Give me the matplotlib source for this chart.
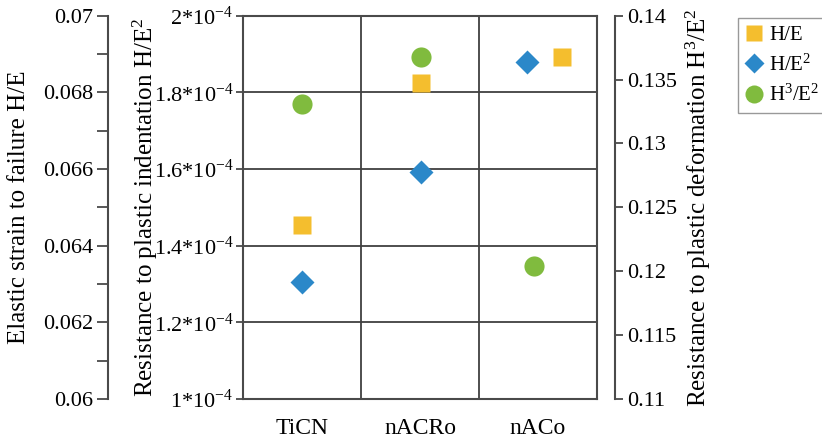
"""
Hardness ratios of the three coatings on three y-axes:
H/E (outer left), H/E^2 (inner left) and H^3/E^2 (right).
"""
import matplotlib
matplotlib.use("Agg")
import matplotlib.pyplot as plt
from matplotlib.lines import Line2D

plt.rcParams["font.family"] = ["Liberation Serif", "DejaVu Serif"]
plt.rcParams["mathtext.fontset"] = "custom"
plt.rcParams["mathtext.rm"] = "Liberation Serif"
plt.rcParams["mathtext.it"] = "Liberation Serif:italic"

# ── data ──────────────────────────────────────────────────────────────────────
coatings = ["TiCN", "nACRo", "nACo"]
h_e      = [0.06454, 0.06824, 0.06891]         # elastic strain to failure
h_e2     = [1.305e-4, 1.592e-4, 1.880e-4]      # resistance to plastic indentation
h3_e2    = [0.1331, 0.1368, 0.1204]            # resistance to plastic deformation

# small horizontal shifts inside each category (as placed in the original)
shift_h_e   = [0.0, 0.01, 0.20]
shift_h_e2  = [0.0, 0.01, -0.09]
shift_h3_e2 = [0.0, 0.01, -0.03]

c_sq, c_di, c_ci = "#F4BE2E", "#2B88C9", "#80BB3E"
edge = "#4a4a4a"
tick_fs, lab_fs = 16, 18

fig = plt.figure(figsize=(8.22, 4.38), dpi=100)
ax = fig.add_axes([0.2956, 0.0890, 0.4307, 0.8752])   # H/E^2, owns the grid box
ax_he = ax.twinx()                                     # H/E, far left
ax_h3 = ax.twinx()                                     # H^3/E^2, right

x = range(len(coatings))

# ── main box ─────────────────────────────────────────────────────────────────
ax.set_xlim(-0.5, 2.5)
ax.set_ylim(1e-4, 2e-4)
yt = [1.0e-4, 1.2e-4, 1.4e-4, 1.6e-4, 1.8e-4, 2.0e-4]
ax.set_yticks(yt)
ax.set_yticklabels(["1*10$^{-4}$", "1.2*10$^{-4}$", "1.4*10$^{-4}$",
                    "1.6*10$^{-4}$", "1.8*10$^{-4}$", "2*10$^{-4}$"])
ax.set_xticks(list(x))
ax.set_xticklabels(coatings, fontsize=17)
ax.set_xticks([0.5, 1.5], minor=True)
ax.tick_params(axis="x", which="both", length=0, pad=14)
ax.tick_params(axis="y", length=5, width=1.3, color=edge, labelsize=tick_fs, pad=2)
ax.grid(True, axis="y", color="#404040", lw=1.3)
ax.grid(True, axis="x", which="minor", color="#404040", lw=1.3)
for s in ax.spines.values():
    s.set_color(edge)
    s.set_linewidth(1.5)
ax.set_ylabel("Resistance to plastic indentation H/E$^2$",
              fontsize=lab_fs, va="center")
ax.yaxis.set_label_coords(-0.277, 0.5)

ax.plot([i + d for i, d in zip(x, shift_h_e2)], h_e2, ls="none", marker="D",
        ms=12.5, color=c_di, mec="none", zorder=5, label="H/E$^2$")

# ── outer left axis: H/E ────────────────────────────────────────────────────
ax_he.set_ylim(0.06, 0.07)
ax_he.set_yticks([0.06, 0.062, 0.064, 0.066, 0.068, 0.07])
ax_he.set_yticklabels(["0.06", "0.062", "0.064", "0.066", "0.068", "0.07"])
ax_he.set_yticks([0.061, 0.063, 0.065, 0.067, 0.069], minor=True)
ax_he.yaxis.set_ticks_position("left")
ax_he.yaxis.set_label_position("left")
for k in ["top", "bottom", "right"]:
    ax_he.spines[k].set_visible(False)
ax_he.spines["left"].set_position(("axes", -0.381))
ax_he.spines["left"].set_color(edge)
ax_he.spines["left"].set_linewidth(1.5)
ax_he.tick_params(axis="y", which="both", length=8, width=1.3, color=edge,
                  labelsize=tick_fs, pad=3)
ax_he.set_ylabel("Elastic strain to failure H/E", fontsize=lab_fs, va="center")
ax_he.yaxis.set_label_coords(-0.633, 0.5)

ax_he.plot([i + d for i, d in zip(x, shift_h_e)], h_e, ls="none", marker="s",
           ms=13.5, color=c_sq, mec="none", zorder=5, label="H/E")

# ── right axis: H^3/E^2 ─────────────────────────────────────────────────────
ax_h3.set_ylim(0.11, 0.14)
ax_h3.set_yticks([0.11, 0.115, 0.12, 0.125, 0.13, 0.135, 0.14])
ax_h3.set_yticklabels(["0.11", "0.115", "0.12", "0.125", "0.13", "0.135", "0.14"])
for k in ["top", "bottom", "left"]:
    ax_h3.spines[k].set_visible(False)
ax_h3.spines["right"].set_position(("axes", 1.0508))
ax_h3.spines["right"].set_color(edge)
ax_h3.spines["right"].set_linewidth(1.5)
ax_h3.tick_params(axis="y", length=6, width=1.3, color=edge,
                  labelsize=tick_fs, pad=3)
ax_h3.set_ylabel("Resistance to plastic deformation H$^3$/E$^2$",
                 fontsize=lab_fs, va="center")
ax_h3.yaxis.set_label_coords(1.285, 0.5)

ax_h3.plot([i + d for i, d in zip(x, shift_h3_e2)], h3_e2, ls="none", marker="o",
           ms=14.5, color=c_ci, mec="none", zorder=5, label="H$^3$/E$^2$")

# ── legend ───────────────────────────────────────────────────────────────────
handles = [
    Line2D([], [], ls="none", marker="s", ms=11, color=c_sq, mec="none"),
    Line2D([], [], ls="none", marker="D", ms=10, color=c_di, mec="none"),
    Line2D([], [], ls="none", marker="o", ms=13, color=c_ci, mec="none"),
]
leg = fig.legend(handles, ["H/E", "H/E$^2$", "H$^3$/E$^2$"],
                 loc="upper left", bbox_to_anchor=(0.898, 0.959),
                 fontsize=15, frameon=True, fancybox=False, framealpha=1,
                 handlelength=0.8, handletextpad=0.35, labelspacing=0.45,
                 borderpad=0.35, borderaxespad=0)
leg.get_frame().set_edgecolor("#999999")
leg.get_frame().set_linewidth(1.0)

fig.savefig("out.png", dpi=100)
